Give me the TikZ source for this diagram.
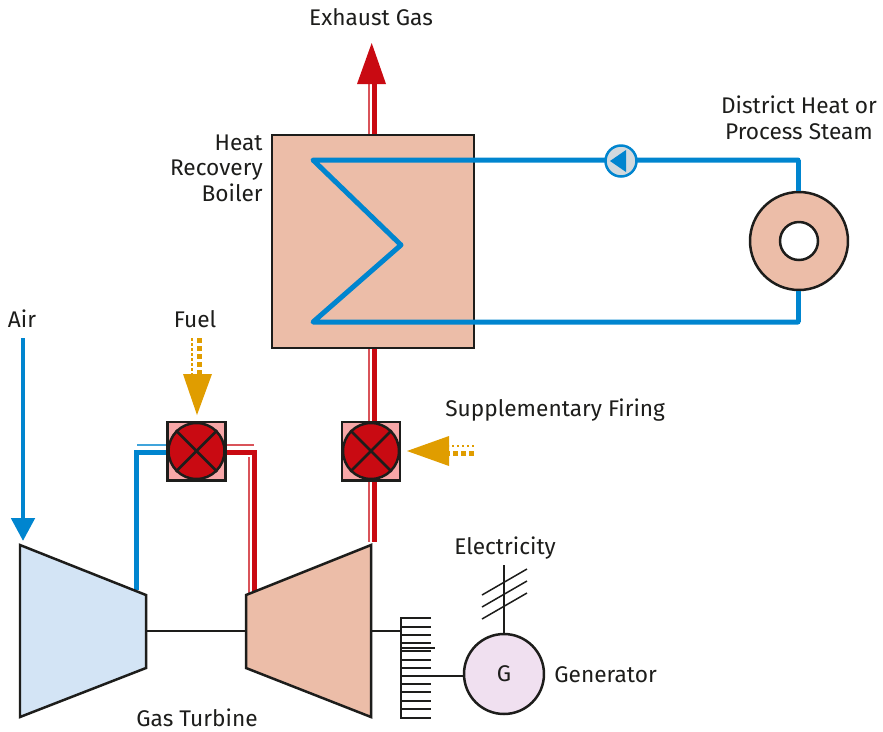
\documentclass[tikz,border=0pt]{standalone}
\usepackage{fontspec}
\setmainfont{Fira Sans}
\usepackage{tikz}
\usetikzlibrary{arrows.meta}
\definecolor{pipeblue}{HTML}{0085CF}
\definecolor{gasred}{HTML}{C90A12}
\definecolor{fuelamber}{HTML}{E09D00}
\definecolor{inkdark}{HTML}{1D1D1B}
\definecolor{hotfill}{HTML}{ECBDA8}
\definecolor{coldfill}{HTML}{D3E4F5}

\begin{document}
\begin{tikzpicture}[x=0.02cm, y=-0.02cm,
	label text/.style={font=\fontsize{12.9}{14.6}\selectfont, text=inkdark, inner sep=0pt, align=center},
	machine/.style={draw=inkdark, line width=0.05cm, line join=miter},
	burner box/.style={draw=inkdark, line width=0.05cm, fill=red!60!gasred!35, minimum size=1.17cm, inner sep=0pt},
	burner/.style={circle, draw=inkdark, line width=0.05cm, fill=gasred, minimum size=1.12cm, inner sep=0pt},
	pipe/.style={draw=pipeblue, line width=0.1cm, line join=round, line cap=round},
	gas/.style={draw=gasred, line width=0.1cm},
	gas thin/.style={draw=gasred!70, line width=0.035cm},
	pipe thin/.style={draw=pipeblue!75, line width=0.035cm},
	fuel thick/.style={draw=fuelamber, line width=0.1cm, dash pattern=on 0.1cm off 0.06cm},
	fuel thin/.style={draw=fuelamber, line width=0.05cm, dash pattern=on 0.05cm off 0.05cm},
	smallarr/.style={-{Triangle[length=0.46cm, width=0.46cm]}},
	gear tooth/.style={draw=inkdark, line width=0.03cm},
	shaft/.style={draw=inkdark, line width=0.05cm}]
	\useasboundingbox (0,0) rectangle (883,731);

	% coordinates for the free line ends
	\coordinate (stackbase) at (374.3,135);
	\coordinate (stackhead) at (374.3,84);
	\coordinate (airstart) at (23,338);
	\coordinate (airtip) at (23,541);
	\coordinate (fuelstart) at (199,338);
	\coordinate (fueltip) at (197,415);
	\coordinate (suppstart) at (474,453);
	\coordinate (supptip) at (407,451);
	\coordinate (gasend) at (374.3,542);
	\coordinate (coilin) at (313,160);
	\coordinate (coilmid) at (401,245);
	\coordinate (coilout) at (313,322);
	\coordinate (cornertop) at (798,160);
	\coordinate (cornerlow) at (798,322);
	\coordinate (comptop) at (136.5,590);
	\coordinate (turbtop) at (254,592);

	% gas lines go under the machines
	\draw [gas thin] (369,135) -- (369,84);
	\draw [gas] (stackbase) -- (stackhead);
	\fill [gasred] (357,84) -- (371.7,43) -- (386,84) -- cycle;
	\draw [gas thin] (369,348) -- (369,542);
	\draw [gas] (374.3,348) -- (gasend);
	\draw [pipe thin] (137,445) -- (167,445);
	\draw [gas thin] (226,445) -- (254,445);
	\draw [gas thin] (249,457) -- (249,595);

	\node [machine, fill=hotfill, minimum width=4.04cm, minimum height=4.26cm, inner sep=0pt] (boiler) at (373,241.5) {};

	\node [burner box] (firstbox) at (196.5,451) {};
	\node [burner] (firstburner) at (196.5,451) {};
	\node [burner box] (secondbox) at (371,451) {};
	\node [burner] (secondburner) at (371,451) {};
	\foreach \n in {firstburner, secondburner} {
		\draw [machine] (\n.45) -- (\n.225);
		\draw [machine] (\n.135) -- (\n.315);
	}

	\draw [gas, line join=miter] (firstbox.east |- 0,452) -- (254,452) -- (turbtop);
	\draw [pipe, line join=miter, line cap=butt] (firstbox.west |- 0,452) -- (136.5,452) -- (comptop);

	% compressor and turbine
	\draw [machine, fill=coldfill] (20,545) -- (146,595) -- (146,668) -- (20,717) -- cycle;
	\draw [machine, fill=hotfill] (246,595) -- (371,545) -- (371,717) -- (246,668) -- cycle;
	\coordinate (compshaft) at (146,631);
	\coordinate (turbshaft) at (246,631);
	\draw [shaft] (compshaft) -- (turbshaft);

	% gear
	\coordinate (gearshaft) at (401,631);
	\draw [shaft] (371,631) -- (gearshaft);
	\draw [machine] (431,618) -- (401,618) -- (401,718) -- (431,718);
	\foreach \y in {627,635,643,651,660,668,676,684,692,701,709} {
		\draw [gear tooth] (401,\y) -- (431,\y);
	}
	\draw [shaft] (401,648) -- (435,648);

	% generator
	\node [circle, machine, fill=violet!12!white, minimum size=1.6cm, inner sep=0pt, label text] (generator) at (504,674) {G};
	\coordinate (gearout) at (431,676);
	\draw [shaft] (gearout) -- (generator.west |- gearout);
	\coordinate (linetop) at (504,565);
	\draw [gear tooth] (generator.north) -- (linetop);
	\foreach \y in {0,12,24} {
		\draw [gear tooth] (482,595+\y) -- (527,569+\y);
	}

	% heating loop
	\node [circle, draw=inkdark, line width=0.05cm, fill=hotfill, minimum size=1.96cm, inner sep=0pt] (consumer) at (799,241) {};
	\node [circle, draw=inkdark, line width=0.05cm, fill=white, minimum size=0.76cm, inner sep=0pt] (consumerhole) at (799,241) {};
	\draw [pipe] (cornertop) -- (coilin) -- (coilmid) -- (coilout) -- (cornerlow);
	\draw [pipe, line cap=butt] (cornertop) -- (consumer.north -| cornertop);
	\draw [pipe, line cap=butt] (cornerlow) -- (consumer.south -| cornerlow);
	\node [circle, draw=pipeblue, line width=0.05cm, fill=pipeblue!20!gray!30!white, minimum size=0.62cm, inner sep=0pt] (pump) at (621,161) {};
	\fill [pipeblue] (610,161) -- (626,150) -- (626,172) -- cycle;

	% air and fuel arrows
	\draw [pipe, line cap=butt, smallarr] (airstart) -- (airtip);
	\draw [fuel thin] (192,338) -- (192,374);
	\draw [fuel thick] (fuelstart) -- (199,374);
	\fill [fuelamber] (fueltip) -- (183,374) -- (212,374) -- cycle;
	\draw [fuel thin] (474,446) -- (449,446);
	\draw [fuel thick] (suppstart) -- (449,453);
	\fill [fuelamber] (supptip) -- (449,436) -- (449,466) -- cycle;

	% labels
	\node [label text] (exhaustlabel) at (371,17) {Exhaust Gas};
	\node [label text, align=right, anchor=east] (boilerlabel) at (263,168) {Heat\\Recovery\\Boiler};
	\node [label text] (districtlabel) at (799,118) {District Heat or\\Process Steam};
	\node [label text] (airlabel) at (22,319) {Air};
	\node [label text] (fuellabel) at (195,319) {Fuel};
	\node [label text, anchor=west] (supplabel) at (445,410) {Supplementary Firing};
	\node [label text] (electriclabel) at (505,548) {Electricity};
	\node [label text, anchor=west] (generatorlabel) at (554,675) {Generator};
	\node [label text] (turbinelabel) at (197,718) {Gas Turbine};
\end{tikzpicture}
\end{document}
